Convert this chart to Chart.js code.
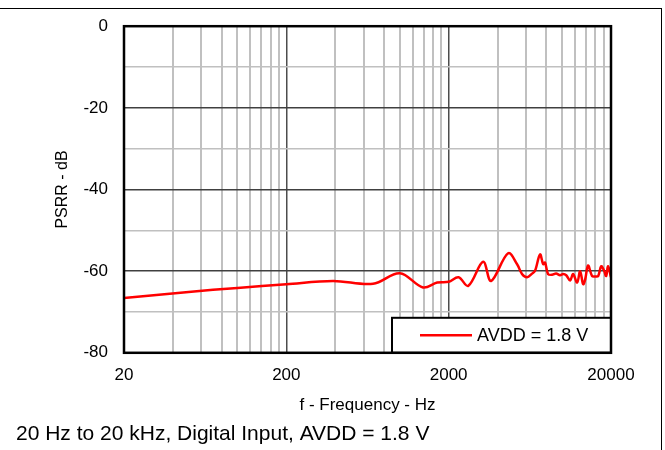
<!DOCTYPE html>
<html>
<head>
<meta charset="utf-8">
<script src="https://cdn.jsdelivr.net/npm/chart.js@4.4.1/dist/chart.umd.min.js"></script>
<style>
  html, body { margin: 0; padding: 0; background: #fff; }
  #wrap { position: relative; width: 665px; height: 450px; overflow: hidden; }
  #frame { position: absolute; left: -2px; top: 8px; width: 663px; height: 460px;
           border-top: 1px solid #000; border-right: 1px solid #000; pointer-events: none; }
  canvas { position: absolute; left: 0; top: 0; }
</style>
</head>
<body>
<div id="wrap">
  <canvas id="psrr" width="665" height="450"></canvas>
  <div id="frame"></div>
</div>
<script>
// frequency (Hz) and PSRR (dB)
const freqHz = [20, 50, 100, 200, 388, 684, 1000, 1390, 1700, 2000, 2300, 2640, 3260, 3650, 4650,
  5280, 5660, 6080, 6530, 6810, 7310, 7640, 7850, 8190, 8670, 9180, 9710, 10140, 10600, 11200,
  11680, 12370, 12910, 13470, 13870, 14450, 15290, 15960, 16680, 17400, 18140, 18670, 19200, 20000];
const psrrDb = [-66.6, -65.1, -64.1, -63.2, -62.4, -63.1, -60.5, -64.0, -62.8, -62.6, -61.5, -63.6, -57.7, -62.4, -55.6,
  -58.3, -60.7, -61.5, -60.6, -59.9, -55.9, -58.3, -57.9, -60.7, -60.9, -60.6, -61.0, -60.7, -61.0, -62.3,
  -60.7, -62.8, -60.0, -63.2, -62.0, -58.6, -61.2, -61.3, -61.2, -58.8, -59.9, -61.2, -58.8, -61.5];

const seriesLabel = 'AVDD = 1.8 V';
const caption = '20 Hz to 20 kHz, Digital Input, AVDD = 1.8 V';

const xTickLabels = [20, 200, 2000, 20000];
const xGridValues = [20, 40, 60, 80, 100, 120, 140, 160, 180,
  200, 400, 600, 800, 1000, 1200, 1400, 1600, 1800,
  2000, 4000, 6000, 8000, 10000, 12000, 14000, 16000, 18000, 20000];
const yTickLabels = [0, -20, -40, -60, -80];

const FONT = "'Liberation Sans', Arial, sans-serif";

// black frame round the plot area + legend box in lower right
const frameAndLegend = {
  id: 'frameAndLegend',
  afterDatasetsDraw(chart) {
    const { ctx, chartArea: a } = chart;
    const ds = chart.data.datasets[0];
    ctx.save();
    const w = 219, h = 35;
    const lx = a.right - w, ly = a.bottom - h;
    ctx.fillStyle = '#fff';
    ctx.fillRect(lx, ly, w, h);
    ctx.strokeStyle = '#000';
    ctx.lineWidth = 2;
    ctx.strokeRect(lx, ly, w, h);
    ctx.strokeStyle = ds.borderColor;
    ctx.lineWidth = 2.5;
    ctx.beginPath();
    ctx.moveTo(lx + 28, ly + h / 2);
    ctx.lineTo(lx + 80, ly + h / 2);
    ctx.stroke();
    ctx.fillStyle = '#000';
    ctx.font = '18px ' + FONT;
    ctx.textBaseline = 'middle';
    ctx.fillText(ds.label, lx + 85, ly + h / 2 + 1);
    ctx.strokeStyle = '#000';
    ctx.lineWidth = 2.5;
    ctx.strokeRect(a.left, a.top, a.right - a.left, a.bottom - a.top);
    ctx.restore();
  }
};

new Chart(document.getElementById('psrr'), {
  type: 'line',
  data: {
    datasets: [{
      label: seriesLabel,
      data: freqHz.map((f, i) => ({ x: f, y: psrrDb[i] })),
      borderColor: '#ff0000',
      borderWidth: 2.5,
      pointRadius: 0,
      tension: 0.35,
      fill: false
    }]
  },
  options: {
    responsive: false,
    devicePixelRatio: 1,
    animation: false,
    layout: { padding: { left: 16, top: 22, right: 54, bottom: 0 } },
    plugins: {
      legend: { display: false },
      tooltip: { enabled: false },
      title: {
        display: true,
        text: caption,
        position: 'bottom',
        align: 'start',
        color: '#000',
        font: { family: FONT, size: 21, weight: 'normal' },
        padding: { top: 5, bottom: 3 }
      }
    },
    scales: {
      x: {
        type: 'logarithmic',
        min: 20,
        max: 20000,
        afterBuildTicks: (scale) => { scale.ticks = xGridValues.map(v => ({ value: v })); },
        afterFit: (scale) => { scale.height = 64; },
        border: { display: false },
        grid: {
          drawTicks: false,
          color: (c) => xTickLabels.includes(c.tick.value) ? '#4d4d4d' : '#c0c0c0',
          lineWidth: (c) => xTickLabels.includes(c.tick.value) ? 1.5 : 2
        },
        ticks: {
          autoSkip: false,
          maxRotation: 0,
          padding: 12,
          color: '#000',
          font: { family: FONT, size: 17 },
          callback: (v) => xTickLabels.includes(v) ? String(v) : ''
        },
        title: {
          display: true,
          text: 'f - Frequency - Hz',
          color: '#000',
          font: { family: FONT, size: 17 },
          padding: { top: 0, bottom: 1 }
        }
      },
      y: {
        min: -80,
        max: 0,
        afterFit: (scale) => { scale.width = 108; },
        border: { display: false },
        grid: {
          drawTicks: false,
          color: (c) => yTickLabels.includes(c.tick.value) ? '#404040' : '#c0c0c0',
          lineWidth: 1.5
        },
        ticks: {
          stepSize: 10,
          padding: 16,
          color: '#000',
          font: { family: FONT, size: 17 },
          callback: (v) => yTickLabels.includes(v) ? String(v) : ''
        },
        title: {
          display: true,
          text: 'PSRR - dB',
          color: '#000',
          font: { family: FONT, size: 16 },
          padding: { top: 37, bottom: 0 }
        }
      }
    }
  },
  plugins: [frameAndLegend]
});
</script>
</body>
</html>
